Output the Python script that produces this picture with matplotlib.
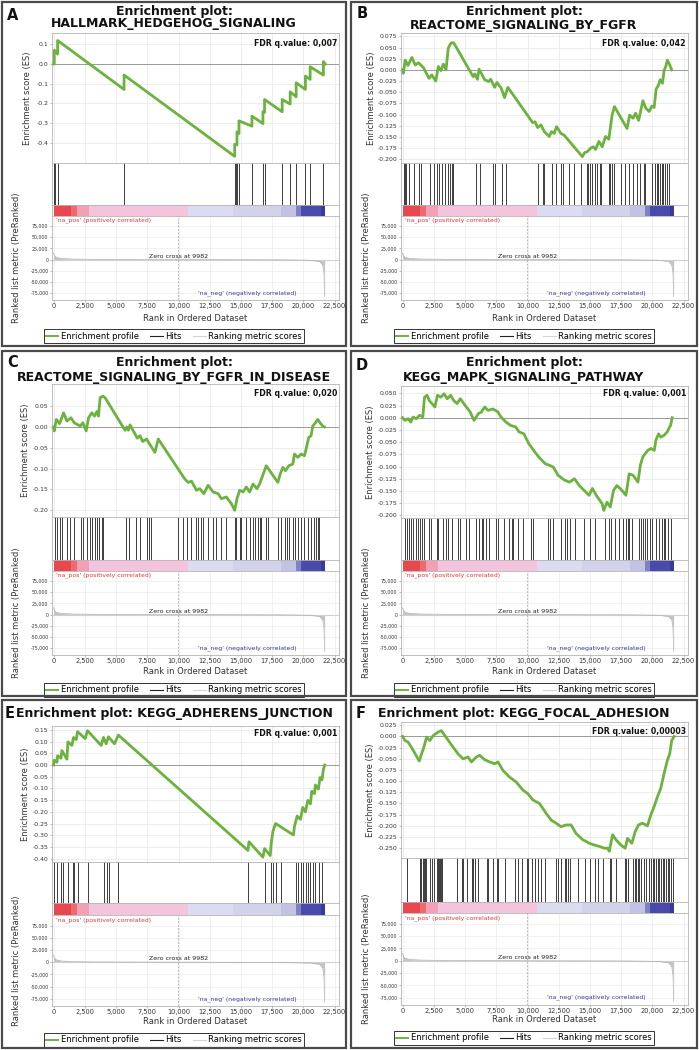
import numpy as np
import matplotlib
matplotlib.use('Agg')
import matplotlib.pyplot as plt
from matplotlib.patches import Rectangle
from matplotlib.lines import Line2D
from matplotlib.transforms import Bbox, TransformedBbox

plt.rcParams['font.family'] = 'DejaVu Sans'
plt.rcParams['axes.unicode_minus'] = False

W, H = 699, 1050
GREEN = '#6cb23f'

# ---------------- data ----------------
# ranked list metric, shared by all six plots
metric_rank = [0, 50, 200, 600, 1500, 3500, 9982, 18000, 20500, 21300, 21550, 21650, 21700]
metric_val = [15000, 9000, 5000, 2500, 1200, 500, 0, -500, -1500, -4000, -12000, -30000, -82000]
zero_cross = 9982
# heat bar under the hits: rank where each colour block ends
bar_ends = [1380, 1910, 2870, 10770, 14360, 18220, 19420, 19820, 21410, 21700]
bar_colors = ['#e8474f', '#ee6a70', '#f2a0b4', '#f4c4dc', '#dcdcf0', '#d2d2ea',
              '#c2c2e2', '#8080c4', '#4a4aaa', '#3a3a9c']

x_ticks = [0, 2500, 5000, 7500, 10000, 12500, 15000, 17500, 20000, 22500]
x_tick_labels = ['0', '2,500', '5,000', '7,500', '10,000', '12,500', '15,000',
                 '17,500', '20,000', '22,500']
metric_ticks = [75000, 50000, 25000, 0, -25000, -50000, -75000]
metric_tick_labels = ['75,000', '50,000', '25,000', '0', '-25,000', '-50,000', '-75,000']

# A  HALLMARK_HEDGEHOG_SIGNALING
a_rank = [0, 53, 53, 319, 319, 5640, 5640, 14500, 14500, 14680, 14680, 14840, 14840,
          15880, 15880, 16760, 16760, 16890, 16890, 18300, 18300, 18940, 18940,
          19420, 19420, 20160, 20160, 20540, 20540, 21600, 21600, 21750]
a_es = [0, 0, 0.07, 0.05, 0.119, -0.129, -0.056, -0.468, -0.407, -0.41, -0.344,
        -0.352, -0.288, -0.315, -0.264, -0.302, -0.242, -0.245, -0.18, -0.242, -0.18,
        -0.203, -0.141, -0.166, -0.095, -0.129, -0.061, -0.078, -0.014, -0.056, 0.012, 0.0]
a_hits = [53, 133, 319, 5640, 14500, 14580, 14680, 14840, 15880, 16760, 16890,
          18300, 18940, 19420, 20160, 20540, 21600]
a_ticks = [0.1, 0.0, -0.1, -0.2, -0.3, -0.4]

# B  REACTOME_SIGNALING_BY_FGFR
b_rank = [0, 53, 212, 424, 742, 1007, 1272, 1670, 2120, 2332, 2650, 2862, 3074, 3260,
          3472, 3657, 3869, 4055, 4187, 5645, 5777, 5989, 6122, 6572, 6890, 7049, 7367,
          7553, 7897, 8162, 8427, 10415, 10600, 10812, 11077, 11342, 11740, 11925, 12137,
          12323, 12667, 12932, 14390, 14575, 14787, 15052, 15264, 15450, 15715, 15980,
          16245, 16510, 16774, 16960, 17967, 18179, 18444, 18656, 18895, 19239, 19478,
          19743, 19955, 20140, 20299, 20485, 20617, 20803, 20935, 21068, 21200, 21359, 21545]
b_es = [0.0, -0.0075, 0.022, 0.010, 0.028, 0.011, 0.016, 0.005, -0.019, -0.011, -0.025,
        0.0075, -0.0015, 0.013, 0.0, 0.049, 0.060, 0.061, 0.056, -0.015, -0.009, -0.021,
        0.0015, -0.022, -0.026, -0.021, -0.039, -0.028, -0.041, -0.062, -0.039, -0.118,
        -0.116, -0.129, -0.123, -0.138, -0.149, -0.138, -0.142, -0.127, -0.142, -0.146,
        -0.194, -0.185, -0.183, -0.175, -0.172, -0.178, -0.160, -0.172, -0.149, -0.155,
        -0.101, -0.082, -0.131, -0.101, -0.108, -0.097, -0.113, -0.069, -0.086, -0.093,
        -0.081, -0.084, -0.043, -0.034, -0.022, -0.030, -0.0015, 0.0075, 0.022, 0.013, 0.0]
b_hits = [80, 159, 265, 477, 875, 1272, 1484, 2200, 2544, 2730, 2915, 3127, 3392, 3657,
          3790, 3922, 4055, 5910, 6175, 7235, 7367, 7950, 8295, 10812, 11210, 11342,
          11925, 12270, 12667, 12879, 13330, 13727, 14257, 14734, 14840, 14999, 15185,
          15370, 15582, 15794, 15900, 16510, 16642, 16774, 16907, 17490, 17835, 18100,
          18444, 18762, 19027, 19292, 19425, 19955, 20220, 20352, 20485, 20617, 20750,
          20882, 21015, 21200, 21359]
b_ticks = [0.075, 0.05, 0.025, 0.0, -0.025, -0.05, -0.075, -0.1, -0.125, -0.15, -0.175, -0.2]

# C  REACTOME_SIGNALING_BY_FGFR_IN_DISEASE
c_rank = [0, 53, 213, 479, 798, 1064, 1383, 1649, 2128, 2341, 2607, 2793, 3059, 3272,
          3458, 3591, 3724, 3937, 4123, 5719, 5852, 5985, 6118, 6703, 6916, 7129, 7448,
          7661, 8113, 8379, 10507, 10773, 11039, 11438, 11704, 12023, 12369, 12768, 13167,
          13433, 13832, 14231, 14497, 14683, 14896, 15162, 15428, 15694, 15960, 16279,
          16492, 17024, 17955, 18141, 18354, 18567, 18833, 19152, 19285, 19551, 19817,
          20083, 20216, 20429, 20615, 20748, 20961, 21147, 21333, 21546, 21679]
c_es = [0.0, -0.0095, 0.018, 0.008, 0.034, 0.014, 0.022, 0.010, 0.002, 0.010, -0.0095,
        0.022, 0.034, 0.026, 0.037, 0.026, 0.070, 0.074, 0.070, -0.008, 0.0, -0.008,
        0.005, -0.027, -0.021, -0.035, -0.029, -0.040, -0.061, -0.029, -0.125, -0.133,
        -0.130, -0.152, -0.148, -0.160, -0.140, -0.156, -0.160, -0.172, -0.168, -0.184,
        -0.200, -0.172, -0.152, -0.156, -0.144, -0.156, -0.137, -0.148, -0.137, -0.093,
        -0.133, -0.113, -0.097, -0.105, -0.093, -0.089, -0.065, -0.073, -0.065, -0.069,
        -0.053, -0.025, -0.021, 0.002, 0.010, 0.018, 0.010, 0.002, 0.0]
c_hits = [133, 266, 532, 665, 1064, 1330, 1649, 2181, 2341, 2660, 2873, 3059, 3325, 3458,
          3671, 3857, 3990, 5799, 6065, 6597, 6916, 7448, 7661, 7767, 9975, 10321, 10640,
          11039, 11438, 11571, 11837, 11970, 12369, 12768, 12981, 13433, 13832, 14497,
          14630, 14896, 15029, 15428, 15694, 15960, 16093, 16359, 16492, 16625, 17024,
          17157, 17955, 18221, 18487, 18673, 18833, 19152, 19365, 19551, 19817, 20083,
          20349, 20615, 20881, 21014, 21147, 21280]
c_ticks = [0.05, 0.0, -0.05, -0.1, -0.15, -0.2]

# D  KEGG_MAPK_SIGNALING_PATHWAY
d_rank = [0, 183, 444, 653, 835, 1096, 1357, 1618, 1749, 1958, 2140, 2584, 2793, 3054,
          3315, 3576, 3837, 4098, 4359, 4620, 5011, 5403, 5716, 6055, 6316, 6577, 6838,
          7230, 7621, 7882, 8274, 8665, 9057, 9318, 9709, 10101, 10492, 10884, 11406,
          11798, 12059, 12450, 12972, 13363, 13755, 14146, 14537, 14929, 15190, 15582,
          15973, 16104, 16365, 16626, 16887, 17148, 17409, 17670, 17879, 18140, 18453,
          18845, 19027, 19236, 19628, 19889, 20150, 20280, 20489, 20671, 20932, 21193,
          21376, 21454, 21585]
d_es = [0, -0.0055, -0.002, -0.009, 0.0014, -0.002, 0.005, 0.0014, 0.042, 0.046, 0.035,
        0.022, 0.046, 0.042, 0.049, 0.039, 0.046, 0.035, 0.029, 0.039, 0.025, 0.012,
        -0.0055, 0.008, 0.012, 0.022, 0.015, 0.018, 0.012, 0.0014, -0.009, -0.016, -0.019,
        -0.029, -0.033, -0.053, -0.067, -0.080, -0.094, -0.098, -0.101, -0.118, -0.128,
        -0.132, -0.125, -0.139, -0.149, -0.159, -0.145, -0.162, -0.176, -0.190, -0.173,
        -0.183, -0.149, -0.139, -0.145, -0.152, -0.159, -0.115, -0.118, -0.132, -0.098,
        -0.080, -0.067, -0.063, -0.067, -0.046, -0.033, -0.040, -0.036, -0.029, -0.019,
        -0.016, 0.0]
d_hits = [183, 339, 522, 705, 861, 1044, 1227, 1383, 1566, 1697, 2088, 2271, 2740, 2871,
          3263, 3471, 3654, 3915, 4437, 4568, 5090, 5351, 5873, 6081, 6342, 6447, 6708,
          6917, 7439, 7647, 8091, 8483, 8744, 8874, 9266, 9657, 10310, 10440, 11667,
          11823, 12006, 12659, 12972, 13181, 13389, 13833, 14486, 15008, 15399, 16182,
          16521, 16704, 16965, 17357, 17618, 17879, 18009, 18140, 18401, 18923, 19053,
          19236, 19419, 19602, 19785, 19994, 20255, 20516, 20777, 20908, 21038, 21219, 21480]
d_ticks = [0.05, 0.025, 0.0, -0.025, -0.05, -0.075, -0.1, -0.125, -0.15, -0.175, -0.2]

# E  KEGG_ADHERENS_JUNCTION
e_rank = [0, 53, 266, 319, 585, 665, 1064, 1144, 1463, 1596, 1809, 1915, 2527, 2713,
          3804, 3990, 4203, 4389, 4868, 5187, 15561, 15641, 16758, 16891, 17343, 17423,
          17556, 17769, 19205, 19285, 19498, 19764, 19950, 20163, 20349, 20562, 20668,
          20881, 20961, 21200, 21333, 21493, 21600, 21706]
e_es = [0, 0.021, 0.012, 0.040, 0.029, 0.062, 0.025, 0.099, 0.084, 0.118, 0.109, 0.143,
        0.113, 0.147, 0.084, 0.118, 0.091, 0.121, 0.091, 0.128, -0.365, -0.328, -0.394,
        -0.357, -0.387, -0.335, -0.284, -0.250, -0.299, -0.262, -0.218, -0.232, -0.181,
        -0.200, -0.151, -0.166, -0.112, -0.122, -0.085, -0.103, -0.053, -0.063, -0.019, 0.0]
e_hits = [53, 266, 585, 745, 1144, 1543, 1649, 1915, 2713, 4043, 4309, 4469, 5187,
          15561, 16891, 17423, 17556, 17769, 18168, 19418, 19551, 19817, 20003, 20216,
          20349, 20535, 20748, 20961, 21280, 21493]
e_ticks = [0.15, 0.1, 0.05, 0.0, -0.05, -0.1, -0.15, -0.2, -0.25, -0.3, -0.35, -0.4]

# F  KEGG_FOCAL_ADHESION
f_rank = [0, 186, 452, 851, 1330, 1516, 1702, 1915, 2181, 2447, 2846, 3112, 3378, 4043,
          4442, 4841, 5240, 5506, 5905, 6171, 6570, 6969, 7368, 7634, 8033, 8565, 9097,
          9629, 10028, 10427, 10959, 11491, 11890, 12289, 12688, 13087, 13486, 13885,
          14151, 14417, 14683, 14949, 15348, 15747, 16146, 16412, 16545, 16811, 17077,
          17476, 17822, 18008, 18354, 18620, 18886, 19205, 19604, 19870, 20136, 20402,
          20668, 20934, 21200, 21386, 21546, 21732]
f_es = [0, -0.009, -0.013, -0.031, -0.055, -0.039, -0.024, -0.0015, -0.009, 0.002, 0.010,
        0.013, 0.002, -0.024, -0.039, -0.050, -0.046, -0.057, -0.046, -0.042, -0.052,
        -0.057, -0.061, -0.057, -0.076, -0.091, -0.102, -0.120, -0.128, -0.142, -0.150,
        -0.172, -0.187, -0.194, -0.202, -0.198, -0.198, -0.217, -0.224, -0.231, -0.235,
        -0.239, -0.243, -0.246, -0.250, -0.250, -0.257, -0.220, -0.231, -0.243, -0.250,
        -0.228, -0.239, -0.213, -0.198, -0.194, -0.200, -0.176, -0.157, -0.135, -0.116,
        -0.083, -0.053, -0.039, -0.009, 0.0]
f_hits = [346, 1410, 1490, 1596, 1676, 1809, 1862, 2208, 2341, 2474, 2740, 2820, 2899,
          2979, 3059, 3139, 4336, 4735, 4868, 5134, 5533, 5666, 5799, 6065, 6730, 6863,
          7262, 7528, 7661, 8193, 8991, 9257, 9576, 9922, 10055, 10321, 10587, 10853,
          11119, 11385, 12316, 12449, 12715, 12981, 13114, 13247, 13380, 14045, 14577,
          14976, 15375, 15641, 16040, 16572, 16705, 17104, 17769, 17902, 18035, 18434,
          18567, 18700, 18833, 18966, 19099, 19365, 19498, 19764, 19897, 20030, 20163,
          20296, 20429, 20562, 20695, 20828, 20961, 21094, 21227, 21360, 21493, 21626]
f_ticks = [0.025, 0.0, -0.025, -0.05, -0.075, -0.1, -0.125, -0.15, -0.175, -0.2, -0.225, -0.25]

# ---------------- layout (pixels) ----------------
panels = [
    dict(letter='A', title=['Enrichment plot:', 'HALLMARK_HEDGEHOG_SIGNALING'], fdr='0,007',
         rank=a_rank, es=a_es, hits=a_hits, ticks=a_ticks, fmt='%.1f', ylim=(-0.50, 0.157),
         origin=(0, 0), rect=(2, 2, 346, 346), rows=(33, 162.7, 205, 216, 300),
         title_y=(11, 24), letter_xy=(11, 13), fdr_y=43, xlabel_y=318, legend_y=336,
         ylab_x=27.5),
    dict(letter='B', title=['Enrichment plot:', 'REACTOME_SIGNALING_BY_FGFR'], fdr='0,042',
         rank=b_rank, es=b_es, hits=b_hits, ticks=b_ticks, fmt='%.3f', ylim=(-0.2076, 0.0826),
         origin=(349, 0), rect=(351, 2, 697, 346), rows=(33, 162.7, 205, 216, 300),
         title_y=(12, 25), letter_xy=(11, 12), fdr_y=43, xlabel_y=318, legend_y=336,
         ylab_x=22.5),
    dict(letter='C', title=['Enrichment plot:', 'REACTOME_SIGNALING_BY_FGFR_IN_DISEASE'],
         fdr='0,020', rank=c_rank, es=c_es, hits=c_hits, ticks=c_ticks, fmt='%.2f',
         ylim=(-0.216, 0.103), origin=(0, 350), rect=(2, 351, 346, 696),
         rows=(34, 167, 210, 221, 305), title_y=(13, 28), letter_xy=(11, 12), fdr_y=43,
         xlabel_y=322, legend_y=340, ylab_x=25.5),
    dict(letter='D', title=['Enrichment plot:', 'KEGG_MAPK_SIGNALING_PATHWAY'], fdr='0,001',
         rank=d_rank, es=d_es, hits=d_hits, ticks=d_ticks, fmt='%.3f', ylim=(-0.2055, 0.065),
         origin=(349, 350), rect=(351, 351, 697, 696), rows=(36, 168, 210, 221, 305),
         title_y=(13, 27), letter_xy=(11, 14), fdr_y=43, xlabel_y=322, legend_y=340,
         ylab_x=21),
    dict(letter='E', title=['Enrichment plot: KEGG_ADHERENS_JUNCTION'], fdr='0,001',
         rank=e_rank, es=e_es, hits=e_hits, ticks=e_ticks, fmt='%.2f', ylim=(-0.4145, 0.167),
         origin=(0, 700), rect=(2, 700, 346, 1048), rows=(26, 162, 203, 215, 306),
         title_y=(14,), letter_xy=(7.5, 14), fdr_y=33, xlabel_y=322, legend_y=340,
         ylab_x=25.5),
    dict(letter='F', title=['Enrichment plot: KEGG_FOCAL_ADHESION'], fdr='0,00003',
         rank=f_rank, es=f_es, hits=f_hits, ticks=f_ticks, fmt='%.3f', ylim=(-0.272, 0.0324),
         origin=(349, 700), rect=(351, 700, 697, 1048), rows=(22, 158, 202, 213, 305),
         title_y=(13,), letter_xy=(10, 13), fdr_y=32, xlabel_y=320, legend_y=338,
         ylab_x=21),
]

fig = plt.figure(figsize=(W / 100, H / 100), dpi=100)


def add_ax(ox, oy, x0, y0, x1, y1):
    return fig.add_axes([(ox + x0) / W, 1 - (oy + y1) / H, (x1 - x0) / W, (y1 - y0) / H])


def fx(x):
    return x / W


def fy(y):
    return 1 - y / H


for p in panels:
    ox, oy = p['origin']
    rx0, ry0, rx1, ry1 = p['rect']
    cx = (rx0 + rx1) / 2
    es_t, es_b, hit_b, cb_b, m_b = p['rows']

    ax_es = add_ax(ox, oy, 52, es_t, 339, es_b)
    ax_hit = add_ax(ox, oy, 52, es_b, 339, hit_b)
    ax_cb = add_ax(ox, oy, 52, hit_b, 339, cb_b)
    ax_m = add_ax(ox, oy, 52, cb_b, 339, m_b)
    for ax in (ax_es, ax_hit, ax_cb, ax_m):
        ax.set_xlim(-130, 22850)
        for s in ax.spines.values():
            s.set_color('#b4b4b4')
            s.set_linewidth(0.6)
        ax.tick_params(length=1.5, width=0.4, color='#888888', labelsize=4.4,
                       pad=1.0, labelcolor='#333333')
        ax.set_axisbelow(True)

    # enrichment profile
    ax_es.plot(p['rank'], p['es'], color=GREEN, lw=2.0, zorder=3)
    ax_es.axhline(0, color='#9a9a9a', lw=0.7, zorder=2)
    ax_es.set_ylim(*p['ylim'])
    ax_es.set_yticks(p['ticks'])
    ax_es.set_yticklabels([p['fmt'] % t for t in p['ticks']])
    ax_es.set_xticks(x_ticks)
    ax_es.tick_params(axis='x', bottom=False, labelbottom=False)
    ax_es.grid(True, color='#e6e6e6', lw=0.5)

    # hits
    ax_hit.vlines(p['hits'], 0, 1, color='#1e1e1e', lw=0.6)
    ax_hit.set_ylim(0, 1)
    ax_hit.set_xticks([])
    ax_hit.set_yticks([])

    # heat bar
    left = 0
    for end, col in zip(bar_ends, bar_colors):
        ax_cb.barh(0.5, end - left, left=left, height=1, color=col, lw=0)
        left = end
    ax_cb.set_ylim(0, 1)
    ax_cb.set_xticks([])
    ax_cb.set_yticks([])

    # ranked list metric
    ax_m.fill_between(metric_rank, metric_val, 0, color='#c4c4c4', lw=0)
    ax_m.plot(metric_rank, metric_val, color='#b0b0b0', lw=0.5)
    ax_m.axhline(0, color='#d0d0d0', lw=0.8, zorder=1)
    ax_m.axvline(zero_cross, color='#a0a0a0', lw=0.5, ls=(0, (3, 2)))
    ax_m.set_ylim(-90000, 97000)
    ax_m.set_yticks(metric_ticks)
    ax_m.set_yticklabels(metric_tick_labels)
    ax_m.set_xticks(x_ticks)
    ax_m.set_xticklabels(x_tick_labels)
    ax_m.tick_params(axis='y', labelsize=3.4)
    ax_m.tick_params(axis='x', labelsize=4.8)
    ax_m.grid(True, color='#ececec', lw=0.5)
    clip = TransformedBbox(Bbox.from_extents(fx(rx0), fy(ry1), fx(rx1), fy(ry0)),
                           fig.transFigure)
    for lbl in ax_m.get_xticklabels():
        lbl.set_clip_box(clip)
        lbl.set_clip_on(True)
    ax_m.text(200, 93000, "'na_pos' (positively correlated)", fontsize=4.4,
              color='#e03a3a', ha='left', va='top')
    ax_m.text(zero_cross, 1500, 'Zero cross at 9982', fontsize=4.5, color='#222222',
              ha='center', va='bottom')
    ax_m.text(15500, -75000, "'na_neg' (negatively correlated)", fontsize=4.4,
              color='#3a3aa0', ha='center', va='center')

    # texts
    fig.text(fx(ox + p['ylab_x']), fy(oy + (es_t + es_b) / 2), 'Enrichment score (ES)',
             rotation=90, ha='center', va='center', fontsize=6, color='#333333')
    fig.text(fx(ox + 17), fy(oy + (cb_b + m_b) / 2), 'Ranked list metric (PreRanked)',
             rotation=90, ha='center', va='center', fontsize=6, color='#333333')
    fig.text(fx(ox + 195.5), fy(oy + p['xlabel_y']), 'Rank in Ordered Dataset',
             ha='center', va='center', fontsize=6, color='#333333')
    fig.text(fx(ox + 337), fy(oy + p['fdr_y']), 'FDR q.value: ' + p['fdr'],
             ha='right', va='center', fontsize=5.6, weight='bold', color='#111111')
    for line, ty in zip(p['title'], p['title_y']):
        fig.text(fx(cx), fy(oy + ty), line, ha='center', va='center', fontsize=9,
                 weight='bold', color='#111111')
    lx, ly = p['letter_xy']
    fig.text(fx(rx0 + lx), fy(ry0 + ly), p['letter'], ha='center', va='center',
             fontsize=10.5, weight='bold', color='#111111')

    handles = [Line2D([], [], color=GREEN, lw=1.4),
               Line2D([], [], color='#222222', lw=0.8),
               Line2D([], [], color='#d4d4d4', lw=0.8)]
    leg = fig.legend(handles, ['Enrichment profile', 'Hits', 'Ranking metric scores'],
                     loc='center', bbox_to_anchor=(fx(cx), fy(oy + p['legend_y'])),
                     ncol=3, fontsize=6, frameon=True, fancybox=False, edgecolor='#333333',
                     handlelength=1.5, handletextpad=0.3, columnspacing=1.4,
                     borderpad=0.25, borderaxespad=0, framealpha=1)
    leg.get_frame().set_linewidth(0.7)

    fig.add_artist(Rectangle((fx(rx0), fy(ry1)), (rx1 - rx0) / W, (ry1 - ry0) / H,
                             transform=fig.transFigure, fill=False, ec='#4a4a4a',
                             lw=1.6, zorder=10))

fig.savefig('out.png', dpi=100)
